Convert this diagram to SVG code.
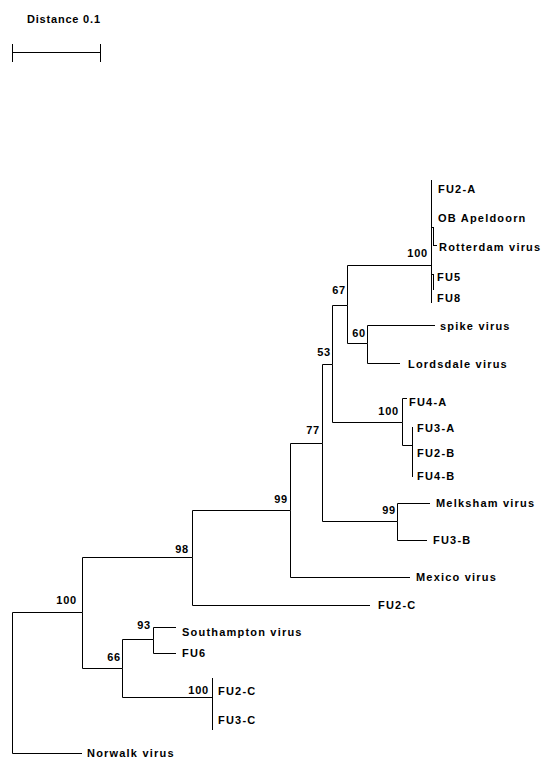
<svg xmlns="http://www.w3.org/2000/svg" width="541" height="758" viewBox="0 0 541 758">
<style>
.e{fill:none;stroke:#000;stroke-width:1}
.t{font-family:"Liberation Sans",Arial,sans-serif;font-size:11px;font-weight:bold;letter-spacing:1.2px;fill:#000}
.b{font-family:"Liberation Sans",Arial,sans-serif;font-size:11px;font-weight:bold;letter-spacing:0.8px;fill:#000;text-anchor:end}
</style>
<rect width="541" height="758" fill="#fff"/>
<g id="scale">
<text class="t" x="27" y="23" style="letter-spacing:0.8px">Distance 0.1</text>
<path class="e" d="M12.5,52.5 H100.5 M12.5,44 V62 M100.5,44 V62"/>
</g>
<g id="connectors">
<path class="e" d="M12.5,682 V612.5 H82.5"/>
<path class="e" d="M12.5,682 V753.5 H82"/>
<path class="e" d="M82.5,612.5 V557.5 H192.5"/>
<path class="e" d="M82.5,612.5 V668.5 H122.5"/>
<path class="e" d="M192.5,557.5 V510.5 H290.5"/>
<path class="e" d="M192.5,557.5 V605.5 H370"/>
<path class="e" d="M290.5,510.5 V443.5 H322.5"/>
<path class="e" d="M290.5,510.5 V577.5 H410"/>
<path class="e" d="M322.5,443.5 V364.5 H332.5"/>
<path class="e" d="M322.5,443.5 V521.5 H397.5"/>
<path class="e" d="M397.5,521.5 V503.5 H430"/>
<path class="e" d="M397.5,521.5 V540.5 H427"/>
<path class="e" d="M332.5,364.5 V305.5 H347.5"/>
<path class="e" d="M332.5,364.5 V422.5 H402.5"/>
<path class="e" d="M402.5,422.5 V398.5 H407"/>
<path class="e" d="M402.5,422.5 V445.5 H412.5"/>
<path class="e" d="M412.5,427 V477"/>
<path class="e" d="M347.5,305.5 V265.5 H431.5"/>
<path class="e" d="M347.5,305.5 V343.5 H367.5"/>
<path class="e" d="M367.5,343.5 V325.5 H435"/>
<path class="e" d="M367.5,343.5 V363.5 H400"/>
<path class="e" d="M431.5,180 V303"/>
<path class="e" d="M431.5,227.5 H433.5 M433.5,227 V246 M433.5,245.5 H437"/>
<path class="e" d="M431.5,274.5 H433.5 M433.5,274 V290"/>
<path class="e" d="M122.5,668.5 V639.5 H153.5"/>
<path class="e" d="M122.5,668.5 V697.5 H212.5"/>
<path class="e" d="M153.5,639.5 V627.5 H176"/>
<path class="e" d="M153.5,639.5 V653.5 H176"/>
<path class="e" d="M212.5,678 V730"/>
</g>
<g id="n100root"><text class="b" x="77" y="604">100</text></g>
<g id="n98"><text class="b" x="189" y="553">98</text></g>
<g id="n99a"><text class="b" x="288" y="503">99</text></g>
<g id="n77"><text class="b" x="320" y="434">77</text></g>
<g id="n99b"><text class="b" x="396" y="514">99</text></g>
<g id="n53"><text class="b" x="331" y="356">53</text></g>
<g id="n100c"><text class="b" x="399" y="415">100</text></g>
<g id="n67"><text class="b" x="346" y="294">67</text></g>
<g id="n60"><text class="b" x="366" y="337">60</text></g>
<g id="n100top"><text class="b" x="428" y="257">100</text></g>
<g id="n66"><text class="b" x="121" y="661">66</text></g>
<g id="n93"><text class="b" x="151" y="629">93</text></g>
<g id="n100d"><text class="b" x="209" y="694">100</text></g>
<g id="fu2a"><text class="t" x="438" y="193">FU2-A</text></g>
<g id="obapeldoorn"><text class="t" x="438" y="222">OB Apeldoorn</text></g>
<g id="rotterdam"><text class="t" x="439" y="251">Rotterdam virus</text></g>
<g id="fu5"><text class="t" x="437" y="281">FU5</text></g>
<g id="fu8"><text class="t" x="437" y="302">FU8</text></g>
<g id="spike"><text class="t" x="440" y="330">spike virus</text></g>
<g id="lordsdale"><text class="t" x="408" y="368">Lordsdale virus</text></g>
<g id="fu4a"><text class="t" x="409" y="406">FU4-A</text></g>
<g id="fu3a"><text class="t" x="417" y="432">FU3-A</text></g>
<g id="fu2b"><text class="t" x="417" y="457">FU2-B</text></g>
<g id="fu4b"><text class="t" x="417" y="480">FU4-B</text></g>
<g id="melksham"><text class="t" x="436" y="507">Melksham virus</text></g>
<g id="fu3b"><text class="t" x="433" y="544">FU3-B</text></g>
<g id="mexico"><text class="t" x="416" y="581">Mexico virus</text></g>
<g id="fu2c1"><text class="t" x="378" y="609">FU2-C</text></g>
<g id="southampton"><text class="t" x="182" y="636">Southampton virus</text></g>
<g id="fu6"><text class="t" x="182" y="657">FU6</text></g>
<g id="fu2c2"><text class="t" x="218" y="695">FU2-C</text></g>
<g id="fu3c"><text class="t" x="218" y="724">FU3-C</text></g>
<g id="norwalk"><text class="t" x="87" y="757">Norwalk virus</text></g>
</svg>
